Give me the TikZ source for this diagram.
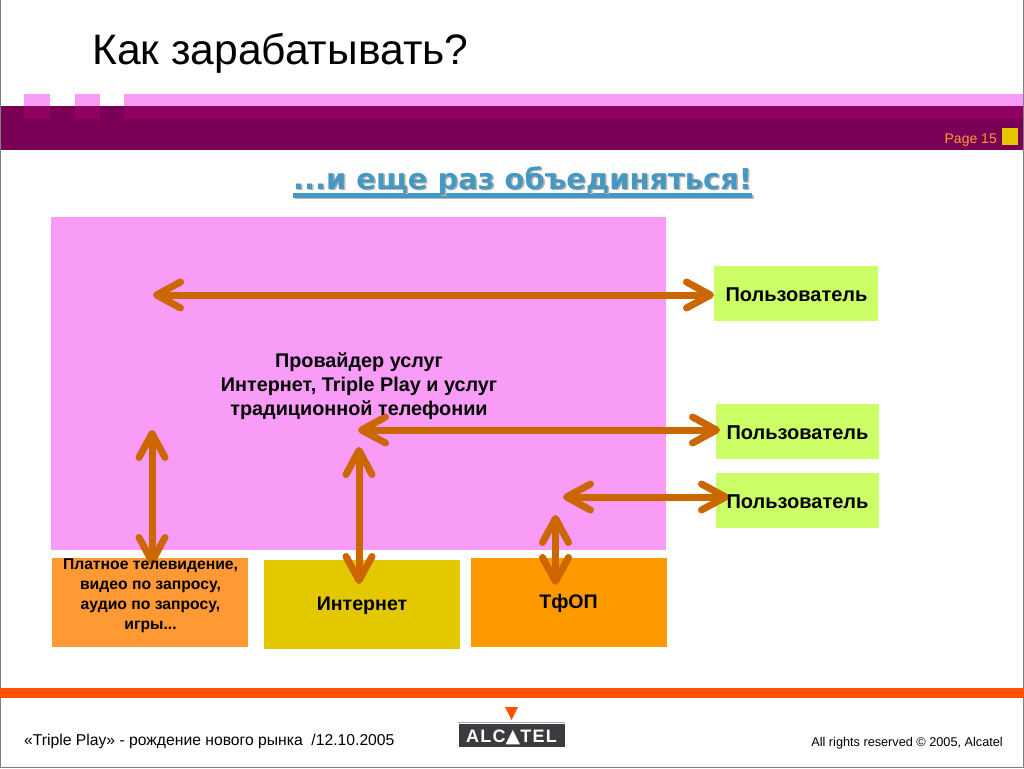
\documentclass[tikz,border=0pt]{standalone}
\usepackage{fontspec}
\setmainfont{Liberation Sans}
\newfontfamily\subfont{DejaVu Sans}
\usetikzlibrary{arrows.meta}
\definecolor{bandDark}{HTML}{7A0055}
\definecolor{bandMid}{HTML}{8F0062}
\definecolor{pinkFill}{HTML}{F89CF8}
\definecolor{userFill}{HTML}{CCFF66}
\definecolor{arrowCol}{HTML}{CC6600}
\definecolor{tvFill}{HTML}{FF9933}
\definecolor{netFill}{HTML}{E3C800}
\definecolor{pstnFill}{HTML}{FF9900}
\definecolor{subCol}{HTML}{4499C4}
\definecolor{subShadow}{HTML}{BDB3A6}
\definecolor{barCol}{HTML}{FF5000}
\definecolor{logoDark}{HTML}{3C3C40}
\tikzset{
  x=1pt,y=-1pt,
  flat/.style={fill=#1,draw=none,inner sep=0pt,outer sep=0pt},
  userbox/.style={fill=userFill,draw=none,inner sep=0pt,minimum width=164pt,minimum height=55pt},
  usertext/.style={inner sep=0pt,font=\bfseries\fontsize{20}{24}\selectfont},
  lowtext/.style={inner sep=0pt,font=\bfseries\fontsize{19.6}{24}\selectfont},
  dbl/.style={draw=arrowCol,line width=7pt,{Straight Barb[round,length=24pt,width=26pt]}-{Straight Barb[round,length=24pt,width=26pt]}},
}
\begin{document}
\begin{tikzpicture}
\useasboundingbox (0,0) rectangle (1024,768);
\fill[white] (0,0) rectangle (1024,768);
% header band
\fill[bandDark] (0,106) rectangle (1024,150);
\fill[pinkFill] (24,94) rectangle (50,106);
\fill[pinkFill] (75,94) rectangle (100,106);
\fill[pinkFill] (124,94) rectangle (1024,106);
\fill[bandMid] (24,106) rectangle (50,119);
\fill[bandMid] (75,106) rectangle (100,119);
\fill[bandMid] (124,106) rectangle (1024,119);
\fill[netFill] (1002,128) rectangle (1018,145);
% frame
\draw[gray,line width=1pt] (0.5,0) -- (0.5,767.5) -- (1023.5,767.5) -- (1023.5,0);
% title
\node[anchor=base west,inner sep=0pt,font=\fontsize{42.6}{50}\selectfont] (title) at (92,64) {Как зарабатывать?};
\node[anchor=base east,inner sep=0pt,text=tvFill,font=\fontsize{14}{16}\selectfont] (page) at (997,143) {Page 15};
% subtitle with shadow and underline
\fill[subShadow] (294.5,195) rectangle (753.5,199);
\fill[subCol] (293,193) rectangle (752,197.5);
\node[anchor=base west,inner sep=0pt,text=subShadow,font=\subfont\bfseries\fontsize{28.9}{32}\selectfont] (subshadow) at (294.5,190.5) {...и еще раз объединяться!};
\node[anchor=base west,inner sep=0pt,text=subCol,font=\subfont\bfseries\fontsize{28.9}{32}\selectfont] (subtitle) at (293,189) {...и еще раз объединяться!};
% main boxes
\node[flat=pinkFill,minimum width=615pt,minimum height=333pt] (prov) at (358.5,383.5) {};
\node[userbox] (u1) at (796,293.5) {};
\node[userbox,minimum width=163pt] (u2) at (797.5,431.5) {};
\node[userbox,minimum width=163pt] (u3) at (797.5,500.5) {};
\node[flat=tvFill,minimum width=196pt,minimum height=89pt] (tv) at (150,602.5) {};
\node[flat=netFill,minimum width=196pt,minimum height=89pt] (net) at (362,604.5) {};
\node[flat=pstnFill,minimum width=196pt,minimum height=89pt] (pstn) at (569,602.5) {};
% arrow ends
\coordinate (a1s) at (153,295);
\coordinate (a1e) at (714,295);
\coordinate (a2s) at (358,430);
\coordinate (a2e) at (720,430);
\coordinate (a3s) at (563,497);
\coordinate (a3e) at (729,497);
\coordinate (v1s) at (152,430);
\coordinate (v1e) at (152,565);
\coordinate (v2s) at (359,447);
\coordinate (v2e) at (359,584);
\coordinate (v3s) at (555.5,515);
\coordinate (v3e) at (555.5,585);
\draw[dbl] (a1s) -- (a1e);
\draw[dbl] (a2s) -- (a2e);
\draw[dbl] (a3s) -- (a3e);
\draw[dbl] (v1s) -- (v1e);
\draw[dbl] (v2s) -- (v2e);
\draw[dbl] (v3s) -- (v3e);
% texts above arrows
\node[inner sep=0pt,align=center,font=\bfseries\fontsize{19.8}{24}\selectfont] (provtext) at (359,386) {Провайдер услуг\\Интернет, Triple Play и услуг\\традиционной телефонии};
\node[usertext] (u1text) at (796.5,294.5) {Пользователь};
\node[usertext] (u2text) at (797.5,432.5) {Пользователь};
\node[usertext] (u3text) at (797.5,501.5) {Пользователь};
\node[inner sep=0pt,align=center,font=\bfseries\fontsize{15.7}{20}\selectfont] (tvtext) at (150.5,595.5) {Платное телевидение,\\видео по запросу,\\аудио по запросу,\\игры...};
\node[lowtext] (nettext) at (362,606) {Интернет};
\node[lowtext] (pstntext) at (568.5,603) {ТфОП};
% footer
\fill[barCol] (0,688) rectangle (1024,698);
\node[anchor=base west,inner sep=0pt,font=\fontsize{15.7}{18}\selectfont] (foot) at (24,745) {«Triple Play» - рождение нового рынка\ \ /12.10.2005};
\node[anchor=base east,inner sep=0pt,font=\fontsize{12.7}{15}\selectfont] (rights) at (1003,746) {All rights reserved © 2005, Alcatel};
% logo
\fill[barCol] (505,707) -- (518,707) -- (511.5,720) -- cycle;
\fill[gray!70] (458,722) rectangle (565,723);
\node[flat=logoDark,minimum width=106pt,minimum height=23pt] (logo) at (512,735.5) {};
\node[anchor=base,inner sep=0pt,text=white,font=\bfseries\fontsize{18}{20}\selectfont] (logotext) at (511.5,742) {\addfontfeature{LetterSpace=7}ALC{\subfont\mdseries\fontsize{19}{20}\selectfont ▲}TEL};
\end{tikzpicture}
\end{document}
